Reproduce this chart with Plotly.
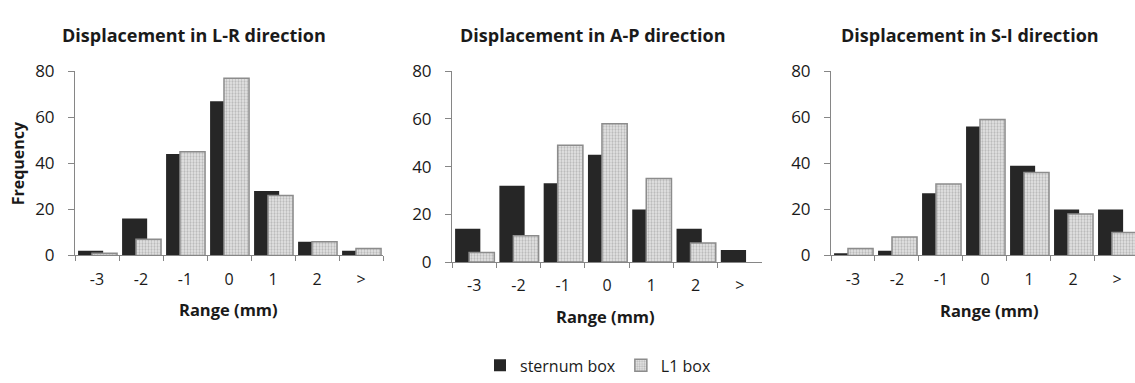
import plotly.graph_objects as go

# Displacement histograms for the two marker boxes in three directions
categories = ["-3", "-2", "-1", "0", "1", "2", ">"]

lr_sternum = [2, 16, 44, 67, 28, 6, 2]
lr_l1 = [1, 7, 45, 77, 26, 6, 3]

ap_sternum = [14, 32, 33, 45, 22, 14, 5]
ap_l1 = [4, 11, 49, 58, 35, 8, 0]

si_sternum = [1, 2, 27, 56, 39, 20, 20]
si_l1 = [3, 8, 31, 59, 36, 18, 10]

titles = ["Displacement in L-R direction",
          "Displacement in A-P direction",
          "Displacement in S-I direction"]

FONT = "Open Sans"
W, H = 1135, 383
DARK = "#262626"
AXIS = "#868686"
TXT = "#1a1a1a"

panels = [
    dict(sternum=lr_sternum, l1=lr_l1, x0=75, x1=383, y0=259, y1=63, xr=[-0.5, 6.5]),
    dict(sternum=ap_sternum, l1=ap_l1, x0=452, x1=762, y0=266, y1=63, xr=[-0.5, 6.5]),
    dict(sternum=si_sternum, l1=si_l1, x0=831, x1=1135, y0=259, y1=63, xr=[-0.5, 6.41]),
]

fig = go.Figure()
BAR_W = 0.57

for i, p in enumerate(panels):
    n = "" if i == 0 else str(i + 1)
    fig.add_trace(go.Bar(
        x=categories, y=p["sternum"], name="sternum box",
        xaxis="x" + n, yaxis="y" + n,
        width=BAR_W, offset=-0.43,
        marker=dict(color=DARK, line=dict(width=0)),
        showlegend=(i == 0), legendgroup="s",
    ))
    # empty bins get no outline so nothing shows on the baseline
    edge = [1.5 if v > 0 else 0 for v in p["l1"]]
    fig.add_trace(go.Bar(
        x=categories, y=p["l1"], name="L1 box",
        xaxis="x" + n, yaxis="y" + n,
        width=BAR_W, offset=-0.114,
        marker=dict(color="#dcdcdc",
                    line=dict(width=edge, color="#8c8c8c"),
                    pattern=dict(shape=".", size=3, solidity=0.45,
                                 fgcolor="#8a8a8a", bgcolor="#e6e6e6")),
        showlegend=(i == 0), legendgroup="l",
    ))
    xa = dict(
        domain=[p["x0"] / W, p["x1"] / W], anchor="y" + n,
        type="category", range=p["xr"],
        showline=True, linecolor=AXIS, linewidth=1,
        ticks="outside", tickson="boundaries", ticklen=5, tickcolor=AXIS,
        ticklabelstandoff=9,
        tickfont=dict(family=FONT, size=16, color=TXT),
        showgrid=False, zeroline=False, fixedrange=True,
    )
    ya = dict(
        domain=[(H - p["y0"]) / H, (H - p["y1"]) / H], anchor="x" + n,
        range=[0, 80], tickvals=[0, 20, 40, 60, 80],
        showline=True, linecolor=AXIS, linewidth=1,
        ticks="outside", ticklen=6, tickcolor=AXIS,
        ticklabelstandoff=10,
        tickfont=dict(family=FONT, size=17, color=TXT),
        showgrid=False, zeroline=False, fixedrange=True,
    )
    fig.layout["xaxis" + n] = xa
    fig.layout["yaxis" + n] = ya

annotations = []
title_cx = [194, 592, 970]
range_pos = [(228, 317), (605, 324), (989, 318)]
for t, cx in zip(titles, title_cx):
    annotations.append(dict(
        text="<b>%s</b>" % t, x=cx / W, y=(H - 25) / H,
        xref="paper", yref="paper", xanchor="center", yanchor="middle",
        showarrow=False, font=dict(family=FONT, size=18, color=TXT)))
for cx, cy in range_pos:
    annotations.append(dict(
        text="<b>Range (mm)</b>", x=cx / W, y=(H - cy) / H,
        xref="paper", yref="paper", xanchor="center", yanchor="middle",
        showarrow=False, font=dict(family=FONT, size=16.5, color=TXT)))
annotations.append(dict(
    text="<b>Frequency</b>", x=18 / W, y=(H - 161) / H, textangle=-90,
    xref="paper", yref="paper", xanchor="center", yanchor="middle",
    showarrow=False, font=dict(family=FONT, size=16, color=TXT)))

fig.update_layout(
    width=W, height=H,
    margin=dict(l=0, r=0, t=0, b=0),
    paper_bgcolor="white", plot_bgcolor="white",
    barmode="overlay",
    annotations=annotations,
    legend=dict(orientation="h", x=598 / W, y=(H - 376) / H,
                xanchor="center", yanchor="middle",
                font=dict(family=FONT, size=16, color=TXT),
                itemwidth=30, tracegroupgap=0, bgcolor="rgba(0,0,0,0)"),
)

fig.write_html("out.html")
